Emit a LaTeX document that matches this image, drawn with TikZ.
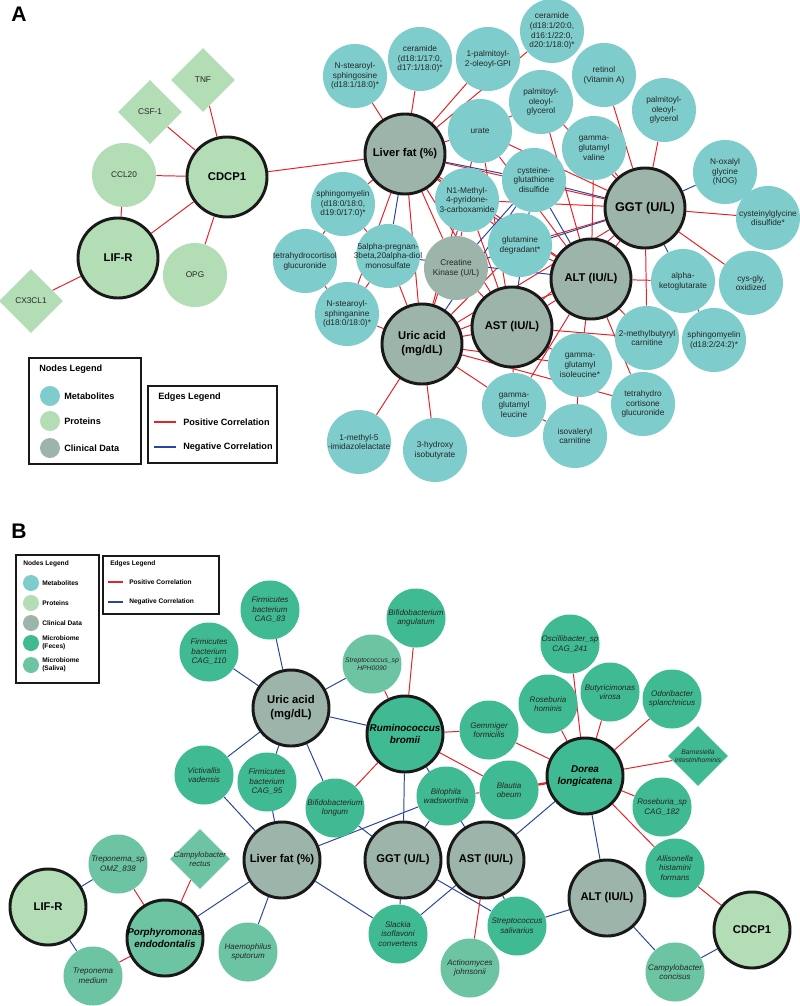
\documentclass[tikz,border=0pt]{standalone}
\usepackage{fontspec}
\setmainfont{Liberation Sans}
\usetikzlibrary{shapes.geometric, backgrounds}

\definecolor{metcol}{RGB}{126,205,204}
\definecolor{protcol}{RGB}{178,221,181}
\definecolor{clincol}{RGB}{157,180,171}
\definecolor{fecol}{RGB}{64,186,146}
\definecolor{salcol}{RGB}{108,196,163}
\definecolor{poscol}{RGB}{232,32,40}
\definecolor{negcol}{RGB}{40,70,160}

\tikzset{
ball/.style = {circle, inner sep=-8pt, align=center, text=black!85},
metab/.style = {ball, fill=metcol, minimum size=1.6cm,
                font=\fontsize{5.9}{7}\selectfont},
prot/.style = {ball, fill=protcol, minimum size=1.6cm,
               font=\fontsize{5.9}{7}\selectfont},
protdia/.style = {diamond, fill=#1, minimum size=1.6cm, inner sep=-6pt,
                  align=center, text=black!85, font=\fontsize{5.9}{7}\selectfont},
protdia/.default = protcol,
hubA/.style = {circle, draw=black!90, line width=2.1pt, minimum size=2cm,
               inner sep=-8pt, align=center, font=\fontsize{8}{10}\selectfont\bfseries},
hubB/.style = {hubA, minimum size=1.9cm},
clin/.style = {fill=clincol},
feces/.style = {ball, fill=fecol, minimum size=1.475cm,
                font=\fontsize{5.7}{6.8}\selectfont\itshape},
saliva/.style = {ball, fill=salcol, minimum size=1.475cm,
                 font=\fontsize{5.7}{6.8}\selectfont\itshape},
bug/.style = {font=\fontsize{7}{8.5}\selectfont\bfseries\itshape},
pcor/.style = {draw=poscol, line width=0.7pt},
ncor/.style = {draw=negcol, line width=0.7pt},
legdot/.style = {circle, fill=#1, inner sep=0pt},
legbox/.style = {draw=black!90, line width=#1, inner sep=0pt},
legbox/.default = 1.4pt,
legtxt/.style = {anchor=west, inner sep=0pt, align=left,
                 font=\fontsize{6.5}{7.5}\selectfont\bfseries},
legtxtB/.style = {anchor=west, inner sep=0pt, align=left,
                  font=\fontsize{4.7}{5.6}\selectfont\bfseries},
panel/.style = {font=\fontsize{15}{15}\selectfont\bfseries}
}
\newcommand{\pedge}[2]{\draw[pcor] (#1) -- (#2);}
\newcommand{\nedge}[2]{\draw[ncor] (#1) -- (#2);}

\begin{document}
\begin{tikzpicture}[x=0.025cm, y=-0.025cm]
\useasboundingbox (0,0) rectangle (800,1006);

% ---------------- panel A ----------------
\node[panel] (labA) at (19,14) {A};

% proteins
\node[protdia] (tnf) at (203,80) {TNF};
\node[protdia] (csf) at (150,112) {CSF-1};
\node[prot] (ccl) at (124,175) {CCL20};
\node[hubA, fill=protcol] (cdcpA) at (227,177) {CDCP1};
\node[hubA, fill=protcol] (lifrA) at (118,258) {LIF-R};
\node[prot] (opg) at (195,275) {OPG};
\node[protdia] (cx3) at (31,301) {CX3CL1};

% clinical data
\node[hubA, clin] (lfA) at (405,154) {Liver fat (\%)};
\node[hubA, clin, font=\fontsize{9}{10}\selectfont\bfseries] (ggtA) at (645,208) {GGT (U/L)};
\node[hubA, clin] (altA) at (591,279) {ALT (IU/L)};
\node[hubA, clin] (astA) at (512,327) {AST (IU/L)};
\node[hubA, clin] (uaA) at (422,344) {Uric acid\\(mg/dL)};
\node[metab, clin] (ck) at (456,268) {Creatine\\Kinase (U/L)};

% metabolites
\node[metab] (nssine) at (355,76) {N-stearoyl-\\sphingosine\\(d18:1/18:0)*};
\node[metab] (cerA) at (420,59) {ceramide\\(d18:1/17:0,\\d17:1/18:0)*};
\node[metab] (pgpi) at (488,59) {1-palmitoyl-\\2-oleoyl-GPI};
\node[metab] (cerB) at (552,31) {ceramide\\(d18:1/20:0,\\d16:1/22:0,\\d20:1/18:0)*};
\node[metab] (ret) at (604,75) {retinol\\(Vitamin A)};
\node[metab] (pogA) at (541,102) {palmitoyl-\\oleoyl-\\glycerol};
\node[metab] (pogB) at (664,110) {palmitoyl-\\oleoyl-\\glycerol};
\node[metab] (urate) at (480,131) {urate};
\node[metab] (ggv) at (594,148) {gamma-\\glutamyl\\valine};
\node[metab] (nog) at (725,172) {N-oxalyl\\glycine\\(NOG)};
\node[metab] (cgd) at (768,218) {cysteinylglycine\\disulfide*};
\node[metab] (cgsh) at (534,180) {cysteine-\\glutathione\\disulfide};
\node[metab] (n1m) at (467,200) {N1-Methyl-\\4-pyridone-\\3-carboxamide};
\node[metab] (smA) at (343,204) {sphingomyelin\\(d18:0/18:0,\\d19:0/17:0)*};
\node[metab] (preg) at (388,256) {5alpha-pregnan-\\3beta,20alpha-diol\\monosulfate};
\node[metab] (thcl) at (305,261) {tetrahydrocortisol\\glucuronide};
\node[metab] (gdeg) at (520,245) {glutamine\\degradant*};
\node[metab] (nsanine) at (347,314) {N-stearoyl-\\sphinganine\\(d18:0/18:0)*};
\node[metab] (akg) at (683,281) {alpha-\\ketoglutarate};
\node[metab] (cgox) at (751,283) {cys-gly,\\oxidized};
\node[metab] (mbc) at (647,338) {2-methylbutyryl\\carnitine};
\node[metab] (smB) at (714,340) {sphingomyelin\\(d18:2/24:2)*};
\node[metab] (ggi) at (580,365) {gamma-\\glutamyl\\isoleucine*};
\node[metab] (thcn) at (643,404) {tetrahydro\\cortisone\\glucuronide};
\node[metab] (ggl) at (514,405) {gamma-\\glutamyl\\leucine};
\node[metab] (ivc) at (575,436) {isovaleryl\\carnitine};
\node[metab] (mil) at (359,442) {1-methyl-5\\-imidazolelactate};
\node[metab] (hib) at (435,450) {3-hydroxy\\isobutyrate};

\begin{pgfonlayer}{background}
\pedge{cdcpA}{tnf} \pedge{cdcpA}{csf} \pedge{cdcpA}{ccl} \pedge{cdcpA}{lifrA}
\pedge{cdcpA}{opg} \pedge{cdcpA}{lfA} \pedge{lifrA}{ccl} \pedge{lifrA}{cx3}
\pedge{lfA}{nssine} \pedge{lfA}{cerA} \pedge{lfA}{pgpi} \pedge{lfA}{cerB}
\pedge{lfA}{urate} \pedge{lfA}{smA} \pedge{lfA}{nsanine} \pedge{lfA}{uaA}
\pedge{lfA}{ck} \pedge{lfA}{astA} \pedge{lfA}{n1m} \pedge{lfA}{ggtA}
\pedge{lfA}{altA} \pedge{lfA}{gdeg}
\pedge{smA}{thcl} \pedge{smA}{preg} \pedge{thcl}{nsanine} \pedge{nsanine}{preg}
\pedge{nsanine}{uaA} \pedge{preg}{uaA}
\pedge{uaA}{mil} \pedge{uaA}{hib} \pedge{uaA}{astA} \pedge{uaA}{altA}
\pedge{uaA}{ggtA} \pedge{uaA}{ggl} \pedge{uaA}{ggi} \pedge{uaA}{thcn}
\pedge{uaA}{n1m} \pedge{uaA}{gdeg} \pedge{uaA}{urate}
\pedge{astA}{ggl} \pedge{astA}{ggi} \pedge{astA}{ck} \pedge{astA}{n1m}
\pedge{astA}{urate} \pedge{astA}{altA} \pedge{astA}{ggtA} \pedge{astA}{mbc}
\pedge{altA}{akg} \pedge{altA}{mbc} \pedge{altA}{ggi} \pedge{altA}{thcn}
\pedge{altA}{ggl} \pedge{altA}{gdeg} \pedge{altA}{urate} \pedge{altA}{n1m}
\pedge{altA}{ggv} \pedge{altA}{pogA} \pedge{altA}{ggtA}
\pedge{ggtA}{ret} \pedge{ggtA}{pogB} \pedge{ggtA}{cgd} \pedge{ggtA}{cgox}
\pedge{ggtA}{ggv} \pedge{ggtA}{pogA} \pedge{ggtA}{urate} \pedge{ggtA}{gdeg}
\pedge{ggtA}{n1m} \pedge{ggtA}{mbc}
\pedge{ggl}{ivc} \pedge{ivc}{ggi} \pedge{urate}{pogA} \pedge{ck}{n1m}
\nedge{lfA}{preg} \nedge{lfA}{cgsh} \nedge{uaA}{cgsh} \nedge{cgsh}{ggtA}
\nedge{cgsh}{altA} \nedge{cgsh}{astA} \nedge{ggtA}{nog} \nedge{ggtA}{akg}
\nedge{akg}{smB} \nedge{ck}{cgsh} \nedge{ck}{ggtA} \nedge{preg}{altA}
\end{pgfonlayer}

% legends A
\node[legbox, minimum width=2.8cm, minimum height=2.65cm] (nlegA) at (85,411) {};
\node[legtxt] (nlegAt) at (39,369) {Nodes Legend};
\node[legdot=metcol, minimum size=0.5cm] (lgmA) at (50,396) {};
\node[legdot=protcol, minimum size=0.5cm] (lgpA) at (50,421) {};
\node[legdot=clincol, minimum size=0.5cm] (lgcA) at (50,448) {};
\node[legtxt] (lgmAt) at (64,396) {Metabolites};
\node[legtxt] (lgpAt) at (64,421) {Proteins};
\node[legtxt] (lgcAt) at (64,448) {Clinical Data};

\node[legbox, minimum width=3.225cm, minimum height=1.925cm] (elegA) at (212.5,424.5) {};
\node[legtxt] (elegAt) at (158,397) {Edges Legend};
\node[legtxt] (lgposA) at (183,422) {Positive Correlation};
\node[legtxt] (lgnegA) at (183,447) {Negative Correlation};
\draw[poscol, line width=2.1pt] (lgposA.west) ++(-7,0) -- ++(-22,0);
\draw[negcol, line width=2.1pt] (lgnegA.west) ++(-7,0) -- ++(-22,0);

% ---------------- panel B ----------------
\node[panel] (labB) at (19,531) {B};

\node[hubB, clin] (uaB) at (291,708) {Uric acid\\(mg/dL)};
\node[hubB, clin] (lfB) at (282,860) {Liver fat (\%)};
\node[hubB, clin] (ggtB) at (403,860) {GGT (U/L)};
\node[hubB, clin] (astB) at (486,860) {AST (IU/L)};
\node[hubB, clin] (altB) at (607,898) {ALT (IU/L)};
\node[hubB, fill=protcol] (lifrB) at (48,907) {LIF-R};
\node[hubB, fill=protcol] (cdcpB) at (752,930) {CDCP1};
\node[hubB, fill=fecol, bug] (rbro) at (405,734) {Ruminococcus\\bromii};
\node[hubB, fill=fecol, bug] (dlon) at (585,776) {Dorea\\longicatena};
\node[hubB, fill=salcol, bug] (porp) at (165,938) {Porphyromonas\\endodontalis};

\node[feces] (fb83) at (270,610) {Firmicutes\\bacterium\\CAG\_83};
\node[feces] (fb110) at (209,652) {Firmicutes\\bacterium\\CAG\_110};
\node[saliva, font=\fontsize{4.8}{5.8}\selectfont\itshape] (shph) at (372,664) {Streptococcus\_sp\\HPH0090};
\node[feces] (bang) at (416,618) {Bifidobacterium\\angulatum};
\node[feces] (gemm) at (489,730) {Gemmiger\\formicilis};
\node[feces] (osc) at (570,644) {Oscillibacter\_sp\\CAG\_241};
\node[feces] (rhom) at (548,704) {Roseburia\\hominis};
\node[feces] (bvir) at (610,692) {Butyricimonas\\virosa};
\node[feces] (odor) at (672,699) {Odoribacter\\splanchnicus};
\node[protdia=fecol, minimum size=1.5cm, font=\fontsize{4.8}{5.8}\selectfont\itshape] (barn) at (698,756) {Barnesiella\\intestinihominis};
\node[feces] (rsp) at (662,807) {Roseburia\_sp\\CAG\_182};
\node[feces] (alli) at (675,868) {Allisonella\\histamini\\formans};
\node[saliva] (ccon) at (675,972) {Campylobacter\\concisus};
\node[feces] (blau) at (509,790) {Blautia\\obeum};
\node[feces] (bilo) at (446,796) {Bilophila\\wadsworthia};
\node[feces] (ssal) at (517,926) {Streptococcus\\salivarius};
\node[saliva] (acti) at (470,968) {Actinomyces\\johnsonii};
\node[feces] (slac) at (398,934) {Slackia\\isoflavoni\\convertens};
\node[feces] (blon) at (335,808) {Bifidobacterium\\longum};
\node[feces] (vict) at (204,775) {Victivallis\\vadensis};
\node[feces] (fb95) at (267,782) {Firmicutes\\bacterium\\CAG\_95};
\node[protdia=salcol, minimum size=1.5cm, font=\fontsize{5.5}{6.6}\selectfont\itshape] (crec) at (200,859) {Campylobacter\\rectus};
\node[saliva] (trsp) at (118,864) {Treponema\_sp\\OMZ\_838};
\node[saliva] (trme) at (93,976) {Treponema\\medium};
\node[saliva] (haem) at (248,952) {Haemophilus\\sputorum};

\begin{pgfonlayer}{background}
\nedge{uaB}{fb83} \nedge{uaB}{fb110} \nedge{uaB}{shph} \nedge{uaB}{rbro}
\nedge{uaB}{vict} \nedge{uaB}{fb95} \nedge{uaB}{blon}
\pedge{rbro}{bang} \pedge{rbro}{shph} \pedge{rbro}{gemm} \pedge{rbro}{blau}
\pedge{rbro}{blon}
\nedge{rbro}{ggtB} \nedge{rbro}{astB} \nedge{bilo}{ggtB} \nedge{bilo}{lfB}
\pedge{bilo}{blau} \draw[pcor, line width=1.6pt] (blau) -- (dlon);
\pedge{gemm}{dlon} \pedge{dlon}{rhom} \pedge{dlon}{osc} \pedge{dlon}{bvir}
\pedge{dlon}{odor} \pedge{dlon}{barn} \pedge{dlon}{rsp} \pedge{dlon}{alli}
\nedge{dlon}{altB} \nedge{dlon}{astB}
\pedge{alli}{cdcpB}
\nedge{cdcpB}{ccon} \nedge{altB}{ccon} \nedge{altB}{ssal} \nedge{astB}{ssal}
\nedge{ggtB}{ssal}
\pedge{astB}{acti}
\nedge{astB}{slac} \nedge{ggtB}{slac} \nedge{lfB}{slac} \nedge{blon}{ggtB}
\nedge{lfB}{vict} \nedge{lfB}{fb95} \nedge{lfB}{porp} \nedge{lfB}{haem}
\pedge{porp}{crec} \pedge{porp}{trsp} \pedge{porp}{trme}
\nedge{lifrB}{trsp} \nedge{lifrB}{trme}
\end{pgfonlayer}

% legends B
\node[legbox=1pt, minimum width=2.075cm, minimum height=3.2cm] (nlegB) at (57.5,619) {};
\node[legtxtB] (nlegBt) at (23,564) {Nodes Legend};
\node[legdot=metcol, minimum size=0.4cm] (lgmB) at (31,583) {};
\node[legdot=protcol, minimum size=0.4cm] (lgpB) at (31,603) {};
\node[legdot=clincol, minimum size=0.4cm] (lgcB) at (31,623) {};
\node[legdot=fecol, minimum size=0.4cm] (lgfB) at (31,643) {};
\node[legdot=salcol, minimum size=0.4cm] (lgsB) at (31,665) {};
\node[legtxtB] (lgmBt) at (42,583) {Metabolites};
\node[legtxtB] (lgpBt) at (42,603) {Proteins};
\node[legtxtB] (lgcBt) at (42,623) {Clinical Data};
\node[legtxtB] (lgfBt) at (42,643) {Microbiome\\(Feces)};
\node[legtxtB] (lgsBt) at (42,665) {Microbiome\\(Saliva)};

\node[legbox=1pt, minimum width=2.9cm, minimum height=1.45cm] (elegB) at (161,585) {};
\node[legtxtB] (elegBt) at (110,564) {Edges Legend};
\node[legtxtB] (lgposB) at (129,582) {Positive Correlation};
\node[legtxtB] (lgnegB) at (129,602) {Negative Correlation};
\draw[poscol, line width=1.4pt] (lgposB.west) ++(-6,0) -- ++(-15,0);
\draw[negcol, line width=1.4pt] (lgnegB.west) ++(-6,0) -- ++(-15,0);
\end{tikzpicture}
\end{document}
